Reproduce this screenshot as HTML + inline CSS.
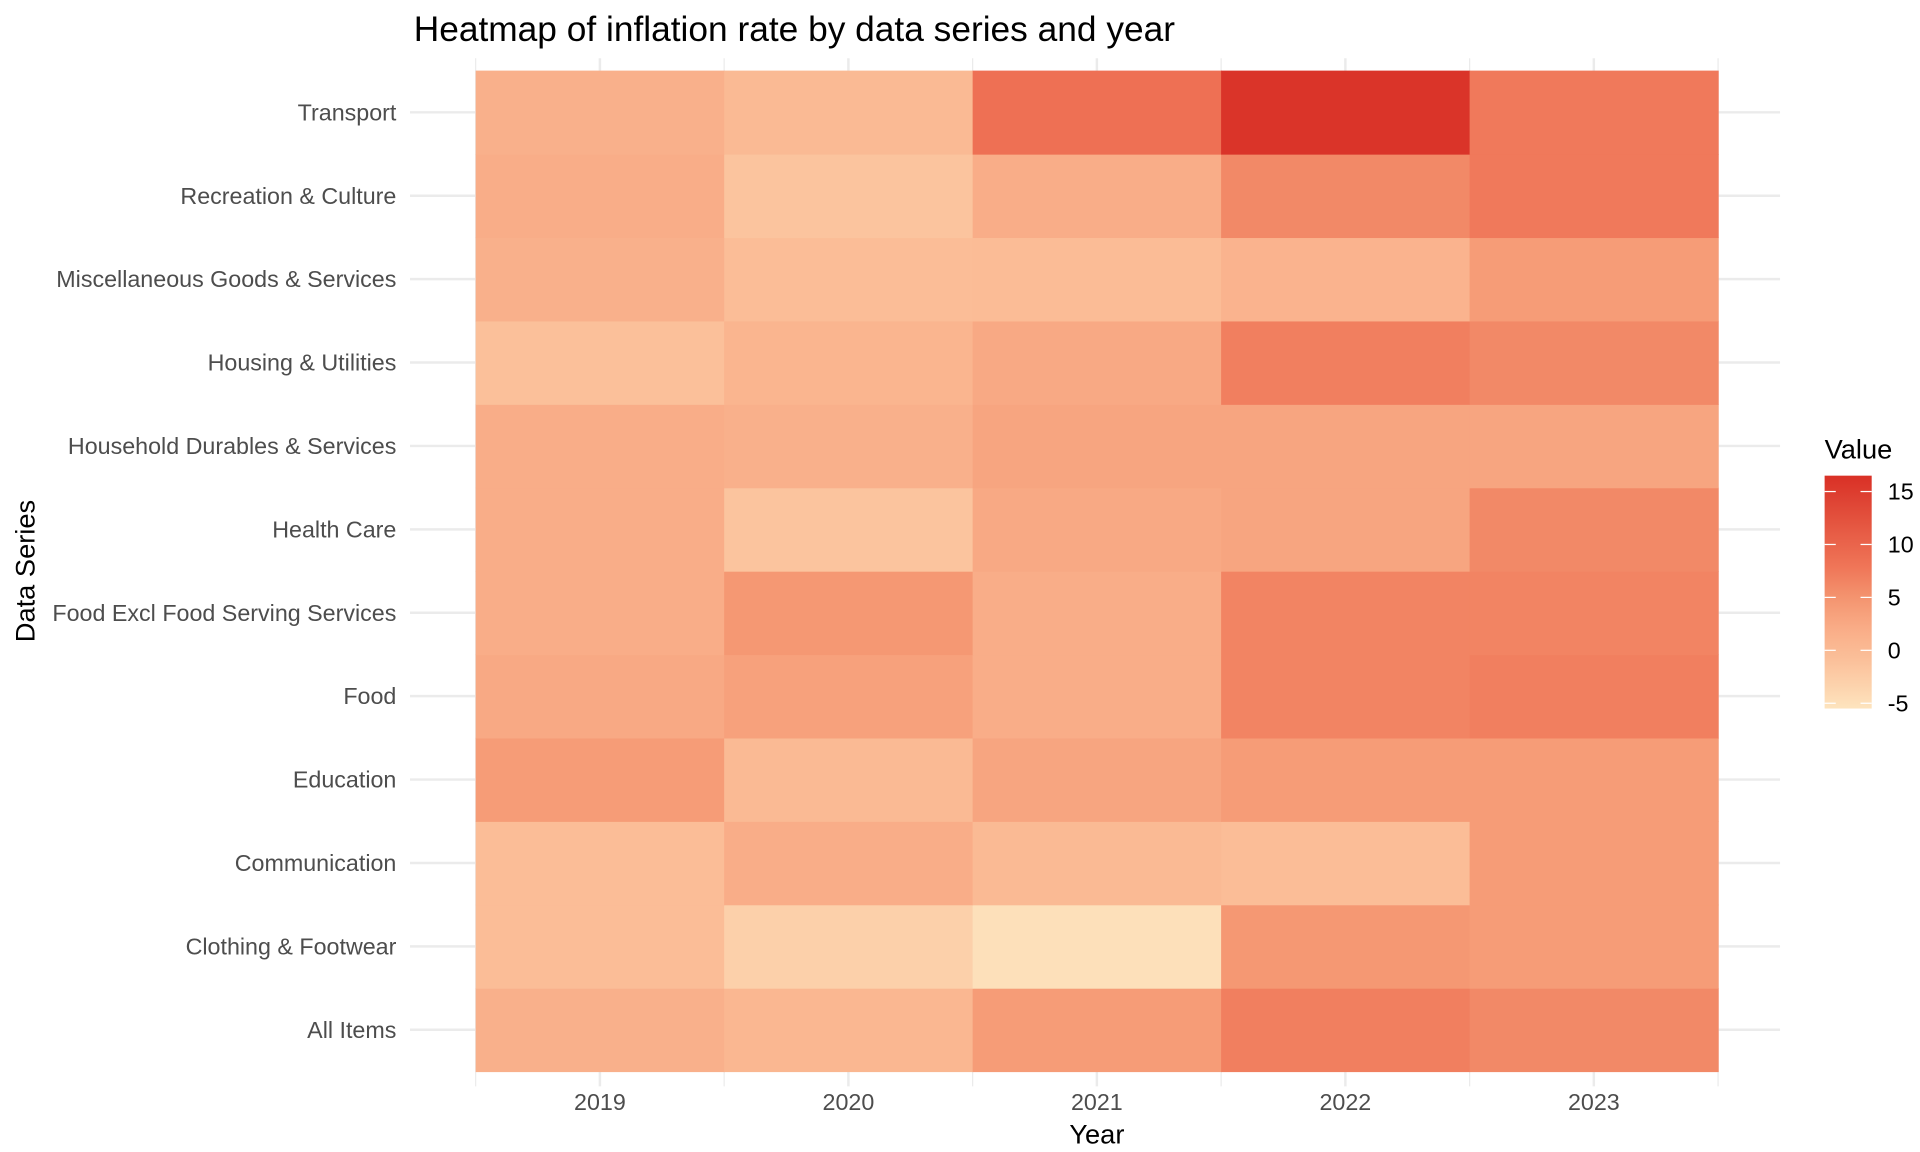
<!DOCTYPE html>
<html><head><meta charset="utf-8"><style>
html,body{margin:0;padding:0;background:#fff;}
svg{display:block;font-family:"Liberation Sans",Arial,sans-serif;}
</style></head><body>
<svg id="chart" width="1920" height="1152" viewBox="0 0 1550 930" xmlns="http://www.w3.org/2000/svg">
<text x="334" y="33" font-size="28.5" fill="#000">Heatmap of inflation rate by data series and year</text>
<g id="grid"></g>
<g id="cells"></g>
<g id="yaxis"></g>
<g id="xaxis"></g>
<text x="885.5" y="923" font-size="22" text-anchor="middle" fill="#000">Year</text>
<text transform="translate(28,461) rotate(-90)" font-size="22" text-anchor="middle" fill="#000">Data Series</text>
<g id="legend">
<text x="1473" y="370" font-size="22" fill="#000">Value</text>
</g>
</svg>
<script>
const years = ["2019","2020","2021","2022","2023"];
const series = ["All Items","Clothing & Footwear","Communication","Education","Food","Food Excl Food Serving Services","Health Care","Household Durables & Services","Housing & Utilities","Miscellaneous Goods & Services","Recreation & Culture","Transport"];
const vAllItems = [1.5,0.5,4,7,6];
const vClothing = [-0.5,-3,-5,4.5,4];
const vCommunication = [-0.5,2,0,-0.5,4];
const vEducation = [4,0,3,4,4];
const vFood = [2.5,3.5,2,6.5,7];
const vFoodExcl = [2,4.5,2,6.5,6.5];
const vHealth = [2,-1.5,2.5,3,6];
const vHousehold = [2,1.5,3,3,3];
const vHousing = [-1,0.8,2.5,7,6];
const vMisc = [1.5,-0.5,-0.3,1,4];
const vRecreation = [2,-1.5,2,6,7.5];
const vTransport = [1.5,0,8.5,16,7.5];
const values = [vAllItems,vClothing,vCommunication,vEducation,vFood,vFoodExcl,vHealth,vHousehold,vHousing,vMisc,vRecreation,vTransport];
const legendTicks = [-5,0,5,10,15];

const NS="http://www.w3.org/2000/svg";
const X0=384, X1=1387, YT=57, YB=865, VMIN=-5.5, VMAX=16.5;
const colW=(X1-X0)/years.length, rowH=(YB-YT)/series.length;
function xCenter(i){return X0+colW*(i+0.5);}
function yCenter(j){return YB-rowH*(j+0.5);}
const stops=[[-5.5,[253,228,190]],[-1,[251,192,154]],[2,[249,173,136]],[5,[244,148,111]],[8,[239,116,87]],[12,[228,85,64]],[16.5,[217,48,38]]];
function color(v){
  v=Math.max(VMIN,Math.min(VMAX,v));
  for(let k=0;k<stops.length-1;k++){const a=stops[k],b=stops[k+1];
    if(v<=b[0]){const t=(v-a[0])/(b[0]-a[0]);const c=a[1].map((x,i)=>Math.round(x+(b[1][i]-x)*t));return `rgb(${c})`;}}
  return "rgb(217,48,38)";
}
function mk(tag,attrs,parent){const e=document.createElementNS(NS,tag);for(const k in attrs)e.setAttribute(k,attrs[k]);parent.appendChild(e);return e;}
const grid=document.getElementById('grid'),cells=document.getElementById('cells'),ya=document.getElementById('yaxis'),xa=document.getElementById('xaxis'),lg=document.getElementById('legend');
series.forEach((s,j)=>{
  const g=mk('line',{x1:331,x2:1437,y1:yCenter(j),y2:yCenter(j),stroke:'#ebebeb','stroke-width':2},grid);
  
  
  const t=mk('text',{x:320,y:yCenter(j)+6.5,'font-size':18.8,'text-anchor':'end',fill:'#4d4d4d'},ya);
  t.textContent=s;
  
  
});
for(let i=0;i<=years.length;i++){
  const gx=X0+colW*i;
  const l=mk('line',{x1:gx,x2:gx,y1:47,y2:877,stroke:'#ebebeb','stroke-width':1},grid);
  
  
}
years.forEach((y,i)=>{
  const l=mk('line',{x1:xCenter(i),x2:xCenter(i),y1:47,y2:877,stroke:'#ebebeb','stroke-width':2},grid);
  
  
  const t=mk('text',{x:xCenter(i),y:896,'font-size':18.8,'text-anchor':'middle',fill:'#4d4d4d'},xa);
  t.textContent=y;
  
  
});
series.forEach((s,j)=>{
  years.forEach((y,i)=>{
    const r=mk('rect',{x:X0+colW*i,y:YB-rowH*(j+1),width:colW+0.5,height:rowH+0.5,fill:color(values[j][i])},cells);
    
    
  });
});
const LX=1473,LW=38,LT=384,LB=572;
const defs=mk('defs',{},lg);
const grad=mk('linearGradient',{id:'lgrad',x1:0,y1:1,x2:0,y2:0},defs);
for(let k=0;k<=20;k++){const v=VMIN+(VMAX-VMIN)*k/20;mk('stop',{offset:(k*5)+'%','stop-color':color(v)},grad);}
const bar=mk('rect',{x:LX,y:LT,width:LW,height:LB-LT,fill:'url(#lgrad)'},lg);


function ly(v){return LB-(v-VMIN)/(VMAX-VMIN)*(LB-LT);}
legendTicks.forEach(v=>{
  mk('line',{x1:LX,x2:LX+9,y1:ly(v),y2:ly(v),stroke:'#fff','stroke-width':1},lg);
  mk('line',{x1:LX+LW-9,x2:LX+LW,y1:ly(v),y2:ly(v),stroke:'#fff','stroke-width':1},lg);
  const t=mk('text',{x:1524,y:ly(v)+6.5,'font-size':18.8,fill:'#000'},lg);
  t.textContent=String(v);
  
  
});
</script>
</body></html>
